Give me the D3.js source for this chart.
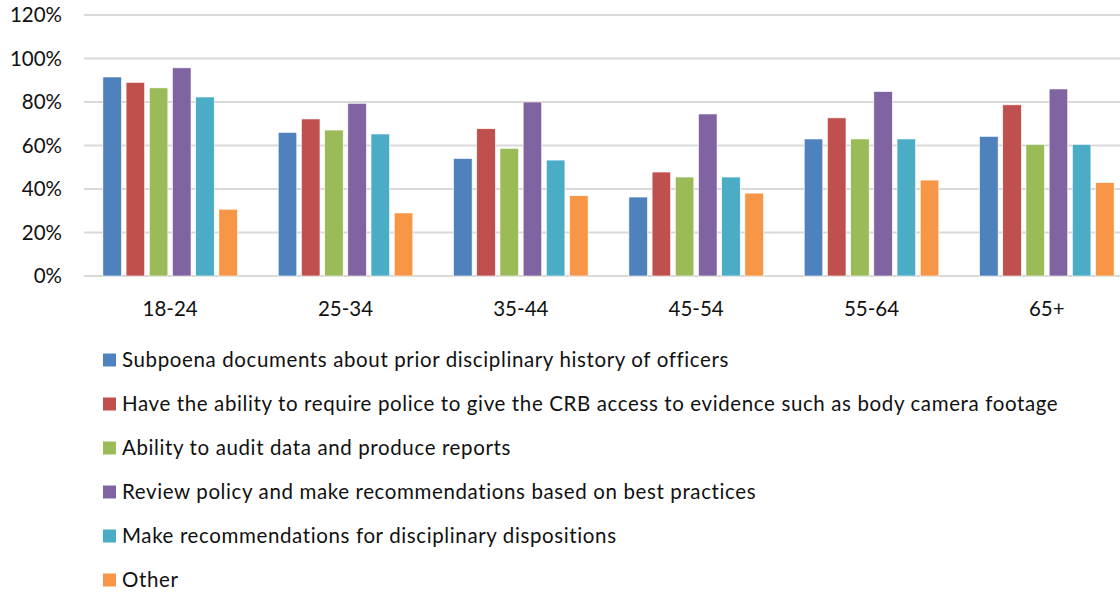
<!DOCTYPE html>
<html>
<head>
<meta charset="utf-8">
<script src="https://cdn.jsdelivr.net/npm/d3@7"></script>
<style>
  body { margin: 0; background: #fff; overflow: hidden; }
  text { font-family: Lato, "Open Sans", sans-serif; fill: #111; }
</style>
</head>
<body>
<div id="chart"></div>
<script>
const categories = ["18-24", "25-34", "35-44", "45-54", "55-64", "65+"];
const seriesNames = [
  "Subpoena documents about prior disciplinary history of officers",
  "Have the ability to require police to give the CRB access to evidence such as body camera footage",
  "Ability to audit data and produce reports",
  "Review policy and make recommendations based on best practices",
  "Make recommendations for disciplinary dispositions",
  "Other"
];
const subpoena   = [0.915, 0.66, 0.54, 0.363, 0.63, 0.642];
const access     = [0.89, 0.722, 0.677, 0.478, 0.727, 0.787];
const audit      = [0.865, 0.671, 0.587, 0.455, 0.63, 0.605];
const review     = [0.957, 0.794, 0.80, 0.745, 0.848, 0.86];
const recommend  = [0.823, 0.653, 0.533, 0.455, 0.63, 0.605];
const other      = [0.307, 0.29, 0.369, 0.381, 0.441, 0.429];
const yTicks = [0, 0.2, 0.4, 0.6, 0.8, 1.0, 1.2];
const colors = ["#4F81BD", "#C0504D", "#9BBB59", "#8064A2", "#4BACC6", "#F79646"];

const allSeries = [subpoena, access, audit, review, recommend, other];

const width = 1120, height = 596;
const svg = d3.select("#chart").append("svg")
  .attr("width", width).attr("height", height);

// plot area runs a little past the right edge, like the cropped original
const x0 = d3.scaleBand().domain(categories).range([82.5, 1134.5]).padding(0);
const x1 = d3.scaleBand().domain(d3.range(seriesNames.length))
  .range([-69.6, 69.6]).paddingInner(0.2).paddingOuter(0.1);
const y = d3.scaleLinear().domain([0, 1.2]).range([276, 15]);

// gridlines
svg.append("g")
  .selectAll("line")
  .data(yTicks)
  .join("line")
  .attr("x1", 84).attr("x2", width)
  .attr("y1", d => y(d)).attr("y2", d => y(d))
  .attr("stroke", "#d9d9d9").attr("stroke-width", 2);

// y tick labels
svg.append("g")
  .selectAll("text")
  .data(yTicks)
  .join("text")
  .attr("x", 62).attr("y", d => y(d))
  .attr("dy", "0.35em")
  .attr("text-anchor", "end")
  .style("font-size", "20.5px")
  .text(d3.format(".0%"));

// bars
const groups = svg.append("g")
  .selectAll("g")
  .data(categories)
  .join("g")
  .attr("transform", d => `translate(${x0(d) + x0.bandwidth() / 2},0)`);

groups.selectAll("rect")
  .data((c, ci) => allSeries.map((s, si) => ({ si, v: s[ci] })))
  .join("rect")
  .attr("x", d => x1(d.si))
  .attr("width", x1.bandwidth())
  .attr("y", d => y(d.v))
  .attr("height", d => y(0) - y(d.v))
  .attr("fill", d => colors[d.si])
  .attr("stroke", "#fff")
  .attr("stroke-width", 0.6);

// category labels
svg.append("g")
  .selectAll("text")
  .data(categories)
  .join("text")
  .attr("x", d => x0(d) + x0.bandwidth() / 2)
  .attr("y", 316)
  .attr("text-anchor", "middle")
  .style("font-size", "20.5px")
  .text(d => d);

// legend
const legend = svg.append("g")
  .selectAll("g")
  .data(seriesNames)
  .join("g")
  .attr("transform", (d, i) => `translate(103,${360 + i * 44})`);

legend.append("rect")
  .attr("x", 0).attr("y", -6.5)
  .attr("width", 13).attr("height", 13)
  .attr("fill", (d, i) => colors[i]);

legend.append("text")
  .attr("x", 19).attr("y", 0)
  .attr("dy", "0.35em")
  .style("font-size", "20.5px")
  .style("letter-spacing", "0.62px")
  .text(d => d);
</script>
</body>
</html>
